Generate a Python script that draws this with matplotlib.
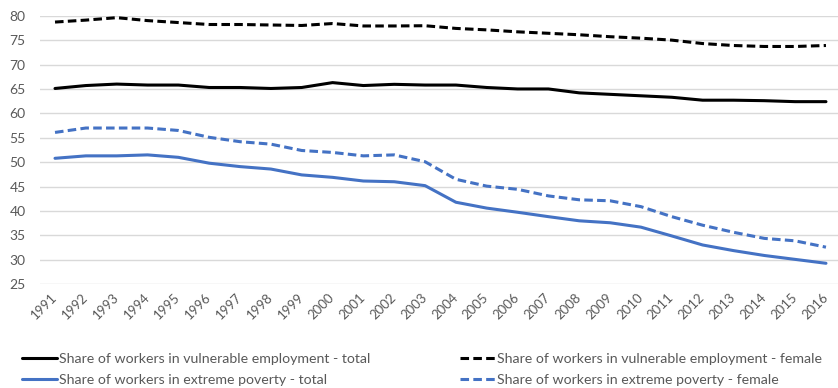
import matplotlib
matplotlib.use("Agg")
import matplotlib.pyplot as plt
from matplotlib import font_manager

years = list(range(1991, 2017))

vulnerable_total = [65.1, 65.7, 66.0, 65.8, 65.8, 65.3, 65.3, 65.1, 65.3, 66.3,
                    65.7, 65.95, 65.8, 65.8, 65.3, 65.0, 65.0, 64.2, 63.9, 63.6,
                    63.3, 62.7, 62.7, 62.6, 62.4, 62.4]
vulnerable_female = [78.7, 79.1, 79.6, 79.0, 78.6, 78.2, 78.2, 78.1, 78.0, 78.4,
                     77.9, 77.9, 77.95, 77.4, 77.1, 76.7, 76.4, 76.1, 75.7, 75.4,
                     75.0, 74.3, 73.9, 73.7, 73.7, 73.9]
poverty_total = [50.8, 51.3, 51.3, 51.5, 51.0, 49.8, 49.1, 48.6, 47.4, 46.9,
                 46.15, 46.0, 45.2, 41.8, 40.6, 39.75, 38.85, 38.0, 37.6, 36.7,
                 34.9, 33.05, 31.9, 30.9, 30.1, 29.3]
poverty_female = [56.1, 57.0, 57.0, 57.0, 56.5, 55.1, 54.2, 53.7, 52.4, 52.0,
                  51.3, 51.5, 50.1, 46.5, 45.1, 44.45, 43.1, 42.3, 42.1, 40.9,
                  38.85, 37.1, 35.65, 34.4, 33.9, 32.6]

labels = {
    "vt": "Share of workers in vulnerable employment - total",
    "vf": "Share of workers in vulnerable employment - female",
    "pt": "Share of workers in extreme poverty - total",
    "pf": "Share of workers in extreme poverty - female",
}

y_ticks = list(range(25, 81, 5))

installed = {f.name for f in font_manager.fontManager.ttflist}


def pick(cands, default="DejaVu Sans"):
    for c in cands:
        if c in installed:
            return c
    return default


text_font = pick(["Lato", "Open Sans"])

BLACK = "#000000"
BLUE = "#4472C4"
GRAY_TEXT = "#595959"
GRID = "#D9D9D9"
LW = 2.2
DASH = (2.8, 1.4)

fig = plt.figure(figsize=(8.38, 3.88), dpi=100)
ax = fig.add_axes([0.04725, 0.2673, 0.9568, 0.6922])

x = list(range(len(years)))
l_vt, = ax.plot(x, vulnerable_total, color=BLACK, lw=LW, solid_capstyle="round")
l_vf, = ax.plot(x, vulnerable_female, color=BLACK, lw=LW, dashes=DASH)
l_pt, = ax.plot(x, poverty_total, color=BLUE, lw=LW, solid_capstyle="round")
l_pf, = ax.plot(x, poverty_female, color=BLUE, lw=LW, dashes=DASH)

ax.set_xlim(-0.5, len(years) - 0.5)
ax.set_ylim(25, 80)
ax.set_yticks(y_ticks)
ax.set_yticklabels([str(v) for v in y_ticks], family=text_font, fontsize=10, color=GRAY_TEXT)
ax.set_xticks(x)
ax.set_xticklabels([str(y) for y in years], family=text_font, fontsize=9.5,
                   color=GRAY_TEXT, rotation=45, ha="right", va="center",
                   rotation_mode="anchor")
ax.tick_params(axis="both", length=0)
ax.tick_params(axis="y", pad=10)
ax.tick_params(axis="x", pad=8)
ax.grid(axis="y", color=GRID, lw=1)
ax.set_axisbelow(True)
for s in ax.spines.values():
    s.set_visible(False)

common = dict(frameon=False, borderpad=0, borderaxespad=0, handlelength=2.5,
              handletextpad=0.1, labelspacing=0.62, labelcolor=GRAY_TEXT,
              prop={"family": text_font, "size": 10.2}, loc="upper left")
fig.legend([l_vt, l_pt], [labels["vt"], labels["pt"]],
           bbox_to_anchor=(22 / 838, 1 - 353 / 388), **common)
fig.legend([l_vf, l_pf], [labels["vf"], labels["pf"]],
           bbox_to_anchor=(460 / 838, 1 - 353 / 388), **common)

fig.savefig("out.png", dpi=100)
